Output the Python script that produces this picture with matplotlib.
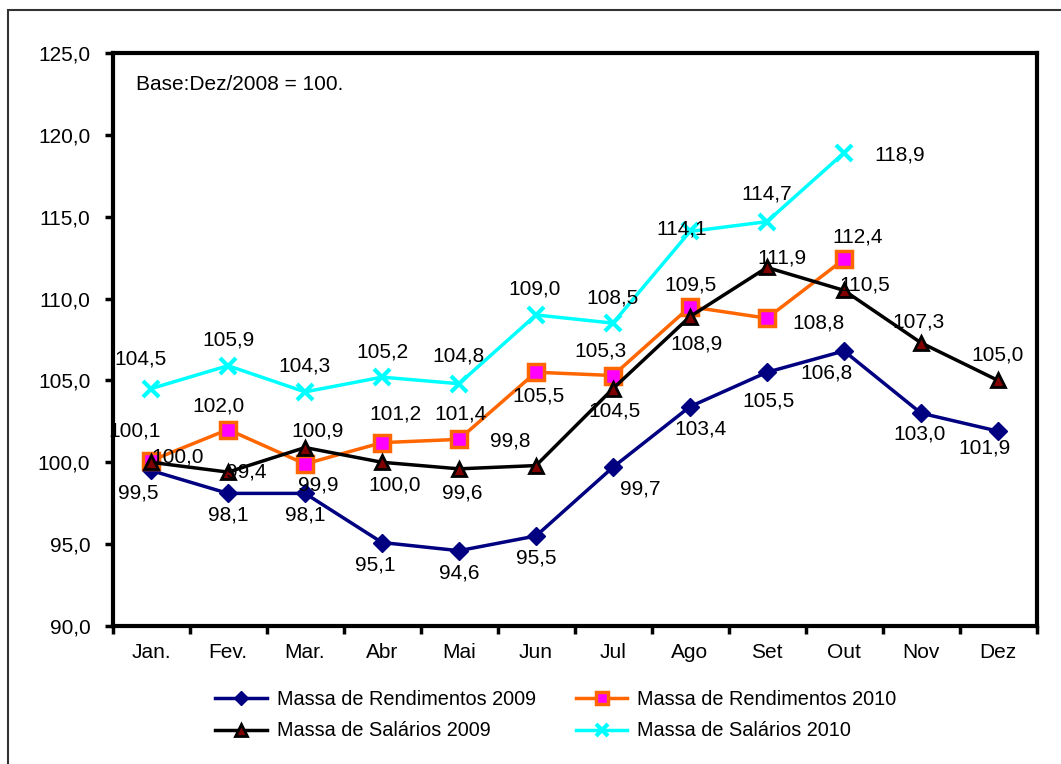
import numpy as np
import matplotlib.pyplot as plt
from matplotlib.patches import Rectangle

months = ['Jan.', 'Fev.', 'Mar.', 'Abr', 'Mai', 'Jun', 'Jul', 'Ago', 'Set', 'Out', 'Nov', 'Dez']

rend_2009 = [99.5, 98.1, 98.1, 95.1, 94.6, 95.5, 99.7, 103.4, 105.5, 106.8, 103.0, 101.9]
rend_2010 = [100.1, 102.0, 99.9, 101.2, 101.4, 105.5, 105.3, 109.5, 108.8, 112.4]
sal_2009 = [100.0, 99.4, 100.9, 100.0, 99.6, 99.8, 104.5, 108.9, 111.9, 110.5, 107.3, 105.0]
sal_2010 = [104.5, 105.9, 104.3, 105.2, 104.8, 109.0, 108.5, 114.1, 114.7, 118.9]

# label offsets in pixels (dx, dy), dy upward
off_rend_2009 = [(-13, -23), (0, -22), (0, -22), (-7, -22), (0, -22), (0, -22),
                 (27, -22), (10, -22), (1, -29), (-18, -22), (-1, -21), (-13, -17)]
off_rend_2010 = [(-16, 30), (-10, 24), (13, -21), (13, 29), (1, 25), (2, -24),
                 (-13, 25), (0, 22), (51, -5), (14, 22)]
off_sal_2009 = [(27, 5), (18, 0), (13, 17), (13, -23), (3, -24), (-26, 25),
                (2, -22), (7, -27), (15, 9), (21, 5), (-3, 21), (0, 25)]
off_sal_2010 = [(-11, 30), (0, 26), (0, 26), (0, 25), (-1, 28), (-1, 26),
                (0, 25), (-8, 2), (0, 28), (56, -2)]

FONT = 'Liberation Sans'
FS = 15

fig = plt.figure(figsize=(10.61, 7.64), dpi=100)
fig.patches.append(Rectangle((8 / 1061, -0.1), 1.2, 0.1 + 1 - 10 / 764,
                             transform=fig.transFigure, fill=False,
                             edgecolor='#333333', linewidth=1.5))
ax = fig.add_axes([112.5 / 1061, 1 - 626 / 764, 924 / 1061, 573 / 764])

x = np.arange(len(months))

series = [
    (rend_2009, off_rend_2009, dict(color='#000080', marker='D', markersize=9,
                                    markerfacecolor='#000080', markeredgecolor='#000080'),
     'Massa de Rendimentos 2009'),
    (rend_2010, off_rend_2010, dict(color='#ff6600', marker='s', markersize=11,
                                    markerfacecolor='#ff00ff', markeredgecolor='#ff6600',
                                    markeredgewidth=2.5),
     'Massa de Rendimentos 2010'),
    (sal_2009, off_sal_2009, dict(color='black', marker='^', markersize=10,
                                  markerfacecolor='#800000', markeredgecolor='black',
                                  markeredgewidth=2),
     'Massa de Salários 2009'),
    (sal_2010, off_sal_2010, dict(color='#00ffff', marker='x', markersize=11,
                                  markeredgewidth=3),
     'Massa de Salários 2010'),
]

handles = []
for vals, offs, style, name in series:
    xs = x[:len(vals)]
    h, = ax.plot(xs, vals, linewidth=2.5, label=name, **style)
    handles.append(h)
    for xi, v, (dx, dy) in zip(xs, vals, offs):
        ax.annotate(f'{v:.1f}'.replace('.', ','), (xi, v), xytext=(dx, dy),
                    textcoords='offset pixels', ha='center', va='center',
                    fontsize=FS, family=FONT)

ax.set_xlim(-0.5, len(months) - 0.5)
ax.set_ylim(90, 125)
ax.set_yticks(np.arange(90, 126, 5))
ax.set_yticklabels([f'{v:.1f}'.replace('.', ',') for v in np.arange(90, 126, 5)],
                   family=FONT, fontsize=FS)
ax.set_xticks(x)
ax.set_xticklabels(months, family=FONT, fontsize=FS)
ax.set_xticks(np.arange(-0.5, len(months), 1), minor=True)
ax.tick_params(axis='x', which='major', length=0, pad=12)
ax.tick_params(axis='x', which='minor', length=6, width=2.5, direction='out')
ax.tick_params(axis='y', length=6, width=2.5, direction='out', pad=10)
for s in ax.spines.values():
    s.set_linewidth(3)

ax.text(0.025, 0.945, 'Base:Dez/2008 = 100.', transform=ax.transAxes,
        fontsize=FS, family=FONT, va='center')

leg = fig.legend(handles=[handles[0], handles[2], handles[1], handles[3]], ncol=2,
                 loc='center', bbox_to_anchor=(556 / 1061, 1 - 715 / 764),
                 frameon=False, prop={'family': FONT, 'size': 14.3},
                 columnspacing=2.0, handlelength=2.6, handletextpad=0.5,
                 labelspacing=0.65, markerscale=0.8)

fig.savefig('out.png', dpi=100)
